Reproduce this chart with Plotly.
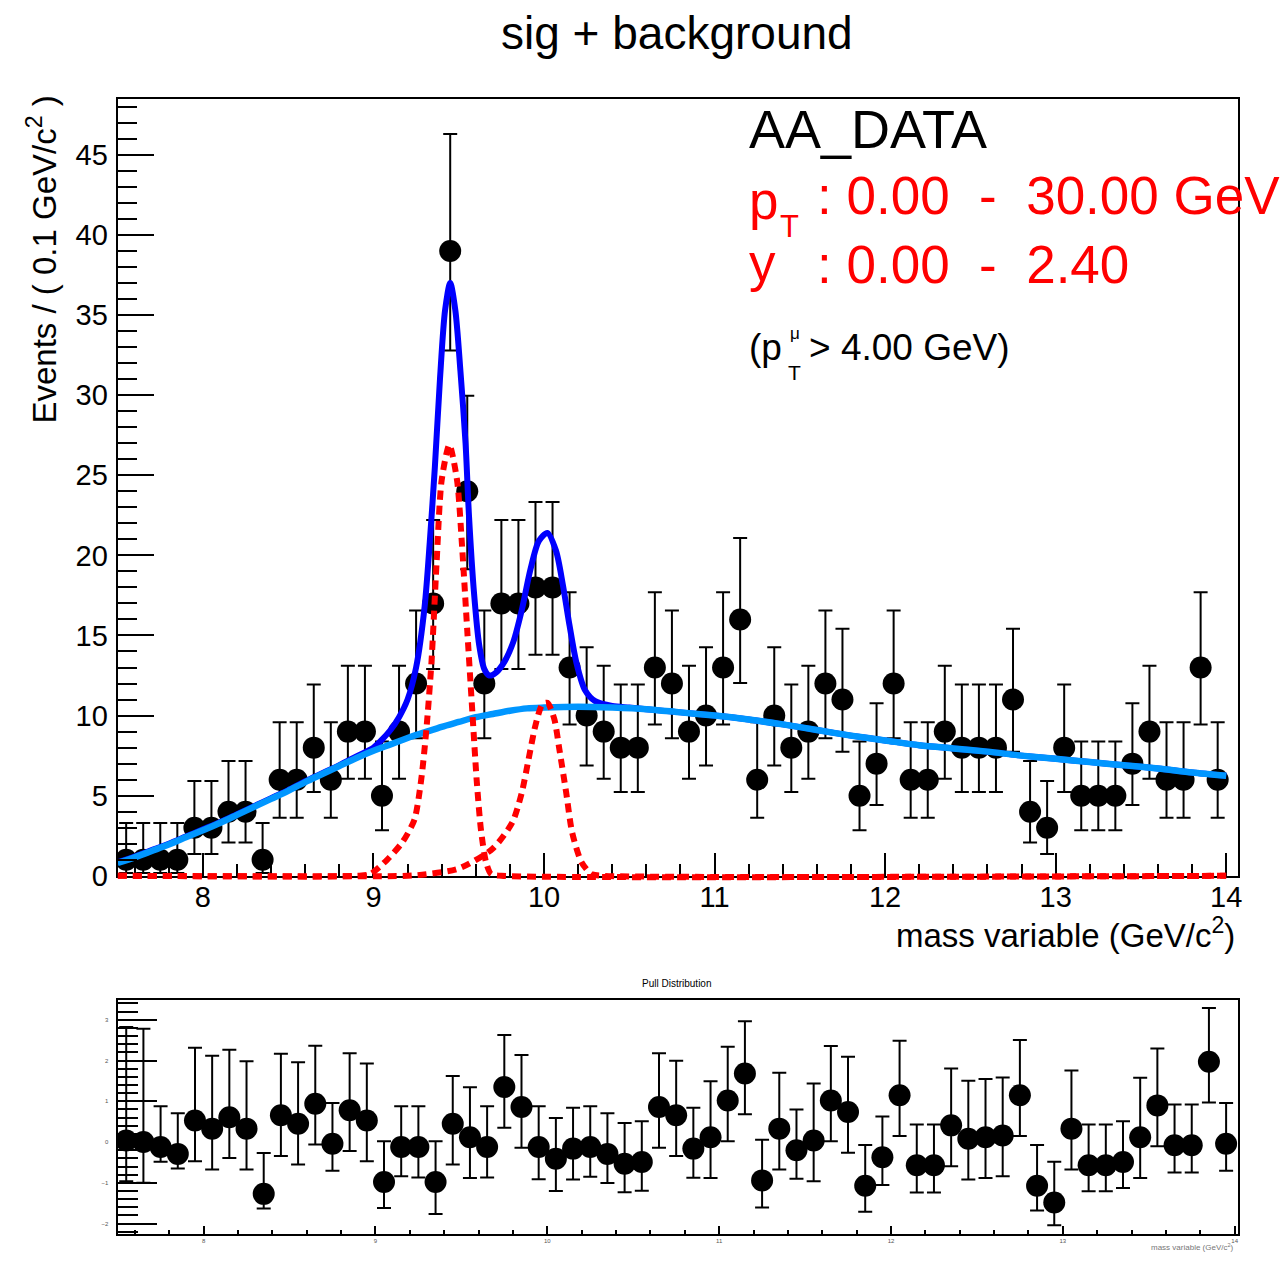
import plotly.graph_objects as go

W, H = 1288, 1267
FONT = "Liberation Sans, Arial, Helvetica, sans-serif"

# ---------------- data ----------------
bin_centers = [7.55, 7.65, 7.75, 7.85, 7.95, 8.05, 8.15, 8.25, 8.35, 8.45,
               8.55, 8.65, 8.75, 8.85, 8.95, 9.05, 9.15, 9.25, 9.35, 9.45,
               9.55, 9.65, 9.75, 9.85, 9.95, 10.05, 10.15, 10.25, 10.35, 10.45,
               10.55, 10.65, 10.75, 10.85, 10.95, 11.05, 11.15, 11.25, 11.35, 11.45,
               11.55, 11.65, 11.75, 11.85, 11.95, 12.05, 12.15, 12.25, 12.35, 12.45,
               12.55, 12.65, 12.75, 12.85, 12.95, 13.05, 13.15, 13.25, 13.35, 13.45,
               13.55, 13.65, 13.75, 13.85, 13.95]

counts = [1, 1, 1, 1, 3, 3, 4, 4, 1, 6,
          6, 8, 6, 9, 9, 5, 9, 12, 17, 39,
          24, 12, 17, 17, 18, 18, 13, 10, 9, 8,
          8, 13, 12, 9, 10, 13, 16, 6, 10, 8,
          9, 12, 11, 5, 7, 12, 6, 6, 9, 8,
          8, 8, 11, 4, 3, 8, 5, 5, 5, 7,
          9, 6, 6, 13, 6]

pulls = [0.04, 0.0, -0.12, -0.29, 0.53, 0.33, 0.61, 0.33, -1.27, 0.66,
         0.45, 0.94, -0.04, 0.78, 0.53, -0.98, -0.12, -0.12, -0.98, 0.45,
         0.12, -0.12, 1.35, 0.86, -0.12, -0.41, -0.16, -0.12, -0.29, -0.53,
         -0.49, 0.86, 0.66, -0.16, 0.12, 1.02, 1.68, -0.94, 0.33, -0.20,
         0.04, 1.02, 0.74, -1.07, -0.37, 1.15, -0.57, -0.57, 0.41, 0.08,
         0.12, 0.16, 1.15, -1.07, -1.48, 0.33, -0.57, -0.57, -0.49, 0.12,
         0.90, -0.08, -0.08, 1.97, -0.04]

# Poisson (Garwood 68.3%) intervals: count -> (low error, high error)
poisson_err = {1: (0.827, 2.299), 3: (1.633, 2.918), 4: (1.914, 3.162),
               5: (2.159, 3.382), 6: (2.380, 3.583), 7: (2.581, 3.770),
               8: (2.768, 3.945), 9: (2.943, 4.110), 10: (3.108, 4.266),
               11: (3.265, 4.416), 12: (3.415, 4.559), 13: (3.559, 4.697),
               16: (3.961, 5.086), 17: (4.087, 5.208), 18: (4.209, 5.327),
               24: (4.861, 5.960), 39: (6.215, 7.295)}

# background (light blue curve)
bkg_mass = [7.5, 7.6, 7.7, 7.8, 7.9, 8.0, 8.1, 8.2, 8.3, 8.4, 8.5, 8.6, 8.7, 8.8,
            8.9, 9.0, 9.1, 9.2, 9.3, 9.4, 9.5, 9.6, 9.7, 9.8, 9.9, 10.0, 10.2,
            10.4, 10.6, 10.8, 11.0, 11.2, 11.4, 11.6, 11.8, 12.0, 12.2, 12.4,
            12.6, 12.8, 13.0, 13.2, 13.4, 13.6, 13.8, 14.0]
bkg_val = [0.8, 1.15, 1.55, 1.95, 2.4, 2.85, 3.3, 3.8, 4.3, 4.8, 5.3, 5.85, 6.35, 6.85,
           7.35, 7.8, 8.2, 8.6, 8.95, 9.3, 9.6, 9.9, 10.1, 10.3, 10.45, 10.5, 10.55,
           10.5, 10.4, 10.2, 10.0, 9.75, 9.45, 9.1, 8.75, 8.45, 8.15, 7.95,
           7.75, 7.5, 7.3, 7.1, 6.9, 6.7, 6.45, 6.25]

# total fit (blue curve)
tot_mass = [7.5, 7.6, 7.7, 7.8, 7.9, 8.0, 8.1, 8.2, 8.3, 8.4, 8.5, 8.6, 8.7, 8.8,
            8.9, 9.0, 9.05, 9.1, 9.15, 9.2, 9.25, 9.3, 9.33, 9.36, 9.39, 9.42,
            9.45, 9.48, 9.51, 9.54, 9.56, 9.59, 9.62, 9.65, 9.68, 9.72, 9.77,
            9.82, 9.87, 9.92, 9.97, 10.02, 10.07, 10.11, 10.15, 10.19, 10.24,
            10.3, 10.4, 10.5, 10.6, 10.8, 11.0, 11.2, 11.4, 11.6, 11.8, 12.0,
            12.2, 12.4, 12.6, 12.8, 13.0, 13.2, 13.4, 13.6, 13.8, 14.0]
tot_val = [0.85, 1.2, 1.6, 2.0, 2.45, 2.9, 3.35, 3.85, 4.35, 4.85, 5.35, 5.9, 6.4, 6.9,
           7.45, 8.0, 8.5, 9.1, 9.9, 11.0, 13.0, 16.8, 20.8, 25.5, 31.0, 35.3,
           37.0, 35.3, 31.5, 27.0, 22.5, 17.6, 14.4, 12.9, 12.5, 12.7, 13.4,
           14.6, 16.6, 19.1, 20.9, 21.4, 20.3, 18.2, 15.6, 13.3, 11.6,
           10.9, 10.6, 10.5, 10.4, 10.2, 10.0, 9.75, 9.45, 9.1, 8.75, 8.45,
           8.15, 7.95, 7.75, 7.5, 7.3, 7.1, 6.9, 6.7, 6.45, 6.25]

# signal components (red dashed)
sig1_mass = [7.5, 8.9, 8.98, 9.08, 9.17, 9.24, 9.28, 9.31, 9.34, 9.37, 9.40, 9.445,
             9.49, 9.52, 9.55, 9.58, 9.605, 9.63, 9.66, 9.69, 9.75, 14.0]
sig1_val = [0, 0, 0.1, 1.0, 2.1, 3.5, 6.0, 9.1, 13.3, 19.5, 24.7, 26.9,
            24.7, 20.5, 15.3, 10.2, 6.0, 2.9, 0.85, 0.1, 0, 0]
sig2_mass = [7.5, 9.2, 9.31, 9.5, 9.7, 9.815, 9.87, 9.91, 9.95, 9.99, 10.02, 10.06,
             10.09, 10.13, 10.165, 10.22, 10.28, 10.35, 14.0]
sig2_val = [0, 0, 0.1, 0.45, 1.7, 3.35, 5.2, 7.3, 9.4, 10.7, 10.8, 9.8,
            7.9, 5.2, 2.7, 0.85, 0.1, 0, 0]

# ---------------- derived error bars ----------------
err_lo = [poisson_err[n][0] for n in counts]
err_hi = [poisson_err[n][1] for n in counts]
pull_lo, pull_hi = [], []
for p, lo, hi in zip(pulls, err_lo, err_hi):
    if p >= 0:
        pull_lo.append(1.0)
        pull_hi.append(hi / lo)
    else:
        pull_lo.append(lo / hi)
        pull_hi.append(1.0)


def px(x):
    return x / W


def py(y):
    return 1 - y / H


# main panel vertical scale (so the unclipped signal layer lines up exactly)
Y_MAIN = [0, 48.5]
MAIN_TOP, MAIN_BOT = 100, 887
SIG_BOT = 896
scale = (MAIN_BOT - MAIN_TOP) / (Y_MAIN[1] - Y_MAIN[0])
y3_range = [-(SIG_BOT - MAIN_BOT) / scale, Y_MAIN[1]]

fig = go.Figure()

# data (main)
fig.add_trace(go.Scatter(
    x=bin_centers, y=counts, mode="markers",
    marker=dict(color="black", size=22),
    error_y=dict(type="data", symmetric=False, array=err_hi, arrayminus=err_lo,
                 color="black", thickness=2, width=7),
    xaxis="x", yaxis="y", showlegend=False, cliponaxis=True))

# total fit
fig.add_trace(go.Scatter(
    x=tot_mass, y=tot_val, mode="lines",
    line=dict(color="#0000ff", width=6, shape="spline", smoothing=0.8),
    xaxis="x", yaxis="y", showlegend=False))

# background
fig.add_trace(go.Scatter(
    x=bkg_mass, y=bkg_val, mode="lines",
    line=dict(color="#0096ff", width=6.5, shape="spline", smoothing=0.8),
    xaxis="x", yaxis="y", showlegend=False))

# signal components (on an invisible twin axis that is not clipped at y=0)
for sx, sy in ((sig1_mass, sig1_val), (sig2_mass, sig2_val)):
    fig.add_trace(go.Scatter(
        x=sx, y=sy, mode="lines",
        line=dict(color="#ff0000", width=6, dash="9px,6px", shape="spline", smoothing=0.7),
        xaxis="x", yaxis="y3", showlegend=False))

# pulls
fig.add_trace(go.Scatter(
    x=bin_centers, y=pulls, mode="markers",
    marker=dict(color="black", size=22),
    error_y=dict(type="data", symmetric=False, array=pull_hi, arrayminus=pull_lo,
                 color="black", thickness=2, width=7),
    xaxis="x2", yaxis="y2", showlegend=False))

axis_common = dict(showline=True, linecolor="black", linewidth=2, mirror=True,
                   ticks="inside", tickcolor="black", tickwidth=2,
                   showgrid=False, zeroline=False)

fig.update_layout(
    width=W, height=H,
    margin=dict(l=0, r=0, t=0, b=0),
    paper_bgcolor="white", plot_bgcolor="rgba(0,0,0,0)",
    font=dict(family=FONT, color="black"),
    xaxis=dict(domain=[px(118), px(1242)], range=[7.5, 14.07], anchor="y",
               tick0=0, dtick=1, ticklen=23,
               minor=dict(dtick=0.2, tick0=0, ticklen=12, tickwidth=2,
                          tickcolor="black", ticks="inside"),
               tickfont=dict(family=FONT, size=29, color="black"),
               ticklabelstandoff=-6, **axis_common),
    yaxis=dict(domain=[py(MAIN_BOT), py(MAIN_TOP)], range=Y_MAIN, anchor="x",
               tick0=0, dtick=5, ticklen=36,
               minor=dict(dtick=1, tick0=0, ticklen=19, tickwidth=2,
                          tickcolor="black", ticks="inside"),
               tickfont=dict(family=FONT, size=29, color="black"),
               ticklabelstandoff=2, **axis_common),
    yaxis3=dict(domain=[py(SIG_BOT), py(MAIN_TOP)], range=y3_range, anchor="x",
                visible=False, showgrid=False, zeroline=False),
    xaxis2=dict(domain=[px(118), px(1242)], range=[7.5, 14.02], anchor="y2",
                tick0=0, dtick=1, ticklen=8,
                minor=dict(dtick=0.2, tick0=0, ticklen=4, tickwidth=2,
                           tickcolor="black", ticks="inside"),
                tickfont=dict(family=FONT, size=6, color="#555555"),
                ticklabelstandoff=0, **axis_common),
    yaxis2=dict(domain=[py(1250), py(1013)], range=[-2.26, 3.48], anchor="x2",
                tick0=0, dtick=1, ticklen=39,
                minor=dict(dtick=0.2, tick0=0, ticklen=20, tickwidth=2,
                           tickcolor="black", ticks="inside"),
                tickfont=dict(family=FONT, size=6, color="#555555"),
                ticklabelstandoff=6, **axis_common),
)

ann = []
# title
ann.append(dict(text="sig + background", x=px(679), y=py(33), xanchor="center",
                yanchor="middle", font=dict(size=46)))
# axis titles
ann.append(dict(text="Events / ( 0.1 GeV/c<sup>2</sup> )", x=px(42), y=py(263),
                xanchor="center", yanchor="middle", textangle=-90, font=dict(size=33)))
ann.append(dict(text="mass variable (GeV/c<sup>2</sup>)", x=px(1241), y=py(945),
                xanchor="right", yanchor="middle", font=dict(size=33)))
# info box
ann.append(dict(text="AA_DATA", x=px(749), y=py(131), xanchor="left",
                yanchor="middle", font=dict(size=54)))
ann.append(dict(text="p", x=px(749), y=py(203), xanchor="left",
                yanchor="middle", font=dict(size=53, color="#ff0000")))
ann.append(dict(text="T", x=px(792), y=py(229), xanchor="center",
                yanchor="middle", font=dict(size=31, color="#ff0000")))
ann.append(dict(text=":\u00a00.00\u00a0\u00a0-\u00a0\u00a030.00\u00a0GeV", x=px(818), y=py(198),
                xanchor="left", yanchor="middle", font=dict(size=53, color="#ff0000")))
ann.append(dict(text="y", x=px(749), y=py(266), xanchor="left",
                yanchor="middle", font=dict(size=53, color="#ff0000")))
ann.append(dict(text=":\u00a00.00\u00a0\u00a0-\u00a0\u00a02.40", x=px(818), y=py(268),
                xanchor="left", yanchor="middle", font=dict(size=53, color="#ff0000")))
ann.append(dict(text="(p", x=px(749), y=py(352), xanchor="left",
                yanchor="middle", font=dict(size=37)))
ann.append(dict(text="\u03bc", x=px(797), y=py(338), xanchor="center",
                yanchor="middle", font=dict(size=17)))
ann.append(dict(text="T", x=px(797), y=py(377), xanchor="center",
                yanchor="middle", font=dict(size=21)))
ann.append(dict(text="> 4.00 GeV)", x=px(810), y=py(352), xanchor="left",
                yanchor="middle", font=dict(size=37)))
# pull panel texts
ann.append(dict(text="Pull Distribution", x=px(679), y=py(996), xanchor="center",
                yanchor="middle", font=dict(size=10)))
ann.append(dict(text="mass variable (GeV/c<sup>2</sup>)", x=px(1240), y=py(1263),
                xanchor="right", yanchor="middle", font=dict(size=8, color="#777777")))

for a in ann:
    a.update(xref="paper", yref="paper", showarrow=False)
fig.update_layout(annotations=ann)

fig.write_html("out.html", config={"displayModeBar": False},
               post_script="document.body.style.margin='0px';document.body.style.overflow='hidden';")
